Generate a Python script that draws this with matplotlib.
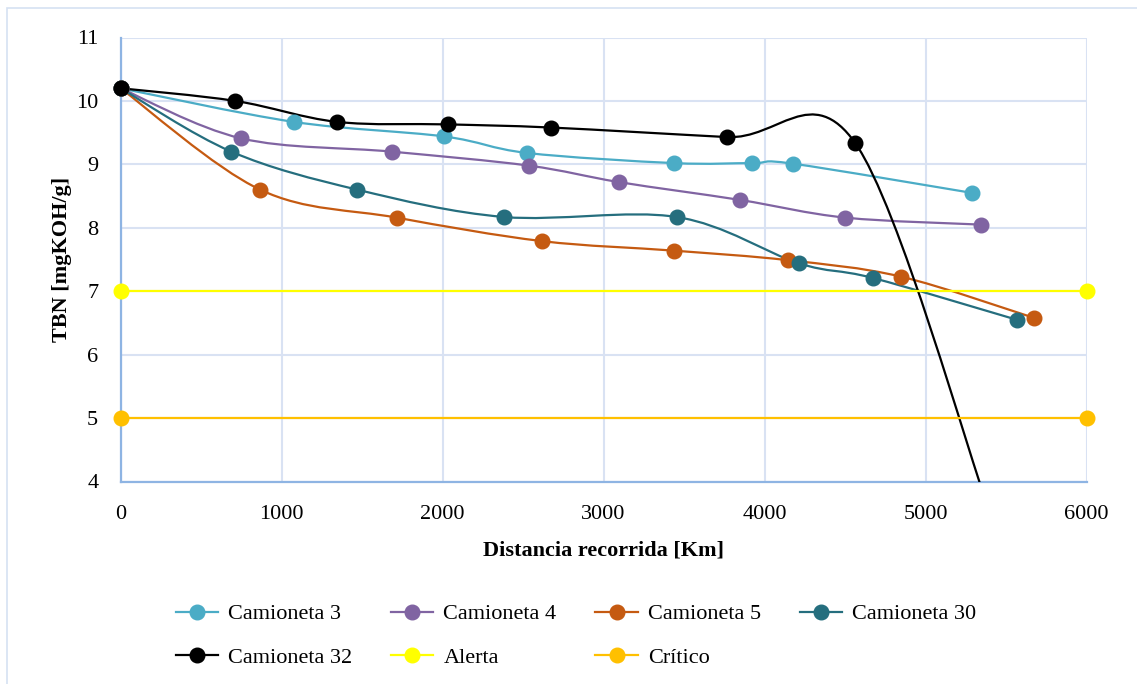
import numpy as np
import matplotlib
matplotlib.use('Agg')
import matplotlib.pyplot as plt
from matplotlib.path import Path
from matplotlib.patches import PathPatch, Rectangle
from matplotlib.lines import Line2D

# Data (km travelled vs TBN)
cam3_x = [0, 1075, 2010, 2525, 3438, 3925, 4178, 5289]
cam3_y = [10.2, 9.67, 9.44, 9.18, 9.02, 9.02, 9.01, 8.55]
cam4_x = [0, 749, 1687, 2536, 3097, 3846, 4503, 5345]
cam4_y = [10.2, 9.41, 9.20, 8.98, 8.72, 8.44, 8.16, 8.05]
cam5_x = [0, 868, 1716, 2618, 3435, 4143, 4847, 5674]
cam5_y = [10.2, 8.60, 8.16, 7.79, 7.64, 7.49, 7.23, 6.58]
cam30_x = [0, 689, 1472, 2384, 3455, 4213, 4671, 5567]
cam30_y = [10.2, 9.20, 8.60, 8.17, 8.17, 7.44, 7.21, 6.55]
cam32_x = [0, 713, 1344, 2037, 2677, 3768, 4565, 5400]
cam32_y = [10.2, 10.0, 9.67, 9.63, 9.58, 9.43, 9.33, 3.5]
alerta_x = [0, 6000]
alerta_y = [7, 7]
critico_x = [0, 6000]
critico_y = [5, 5]

series = [
    ("Camioneta 3", cam3_x, cam3_y, "#4BACC6", True),
    ("Camioneta 4", cam4_x, cam4_y, "#8064A2", True),
    ("Camioneta 5", cam5_x, cam5_y, "#C55A11", True),
    ("Camioneta 30", cam30_x, cam30_y, "#256E7E", True),
    ("Camioneta 32", cam32_x, cam32_y, "#000000", True),
    ("Alerta", alerta_x, alerta_y, "#FFFF00", False),
    ("Crítico", critico_x, critico_y, "#FFC000", False),
]

plt.rcParams['font.family'] = ['Liberation Serif', 'DejaVu Serif']
FS = 16
YMIN, YMAX = 4, 11


def smooth_path(xs, ys):
    # Excel-like smoothed line: cubic Bezier with Catmull-Rom tangents (/6)
    pts = np.column_stack([xs, ys]).astype(float)
    n = len(pts)
    verts = [pts[0]]
    codes = [Path.MOVETO]
    for i in range(n - 1):
        p0 = pts[i - 1] if i > 0 else pts[i]
        p1 = pts[i]
        p2 = pts[i + 1]
        p3 = pts[i + 2] if i + 2 < n else pts[i + 1]
        c1 = p1 + (p2 - p0) / 6.0
        c2 = p2 - (p3 - p1) / 6.0
        verts += [c1, c2, p2]
        codes += [Path.CURVE4] * 3
    return Path(verts, codes)


fig = plt.figure(figsize=(11.37, 6.84), dpi=100)
ax = fig.add_axes([120.5 / 1137, 1 - 481.5 / 684, (1086.5 - 120.5) / 1137, (481.5 - 37.5) / 684])

handles = {}
for name, xs, ys, col, smooth in series:
    if smooth:
        patch = PathPatch(smooth_path(xs, ys), fill=False, ec=col, lw=1.6, zorder=3)
        ax.add_patch(patch)
    else:
        ax.plot(xs, ys, '-', color=col, lw=1.6, zorder=3)
    # markers may sit on the axes edge, so no clipping, but drop those below the range
    xa, ya = np.array(xs), np.array(ys)
    keep = (ya >= YMIN) & (ya <= YMAX)
    ax.plot(xa[keep], ya[keep], 'o', color=col, mec=col, ms=10.5, ls='none', zorder=4, clip_on=False)
    handles[name] = Line2D([], [], color=col, lw=1.6, marker='o', ms=10.5, mec=col, label=name)

ax.set_xlim(0, 6000)
ax.set_ylim(YMIN, YMAX)
ax.set_xticks(range(0, 6001, 1000))
ax.set_yticks(range(YMIN, YMAX + 1))
ax.grid(True, color='#D9E2F3', lw=1.5, zorder=0)
ax.set_axisbelow(True)
for s in ['top', 'right']:
    ax.spines[s].set_visible(False)
for s in ['left', 'bottom']:
    ax.spines[s].set_color('#8EB4E3')
    ax.spines[s].set_linewidth(1.6)
ax.tick_params(axis='both', length=0, labelsize=FS)
ax.tick_params(axis='y', pad=16)
ax.tick_params(axis='x', pad=17)

ax.set_xlabel("Distancia recorrida [Km]", fontsize=FS, fontweight='bold', labelpad=12)
ax.set_ylabel("TBN [mgKOH/g]", fontsize=FS, fontweight='bold', labelpad=3)

# legend fills column by column, so order entries to read row-wise
leg_order = ["Camioneta 3", "Camioneta 32", "Camioneta 4", "Alerta",
             "Camioneta 5", "Crítico", "Camioneta 30"]
fig.legend(handles=[handles[k] for k in leg_order], ncol=4, loc='center',
           bbox_to_anchor=(576 / 1137, 1 - 636 / 684), frameon=False,
           fontsize=FS, handlelength=1.9, handletextpad=0.45,
           columnspacing=1.75, labelspacing=1.05)

# chart area border
fig.add_artist(Rectangle((7 / 1137, -0.2), 1.5, 1.2 - 8 / 684, transform=fig.transFigure,
                         fill=False, ec='#D6E1F2', lw=1.2))

fig.savefig("out.png", dpi=100)
